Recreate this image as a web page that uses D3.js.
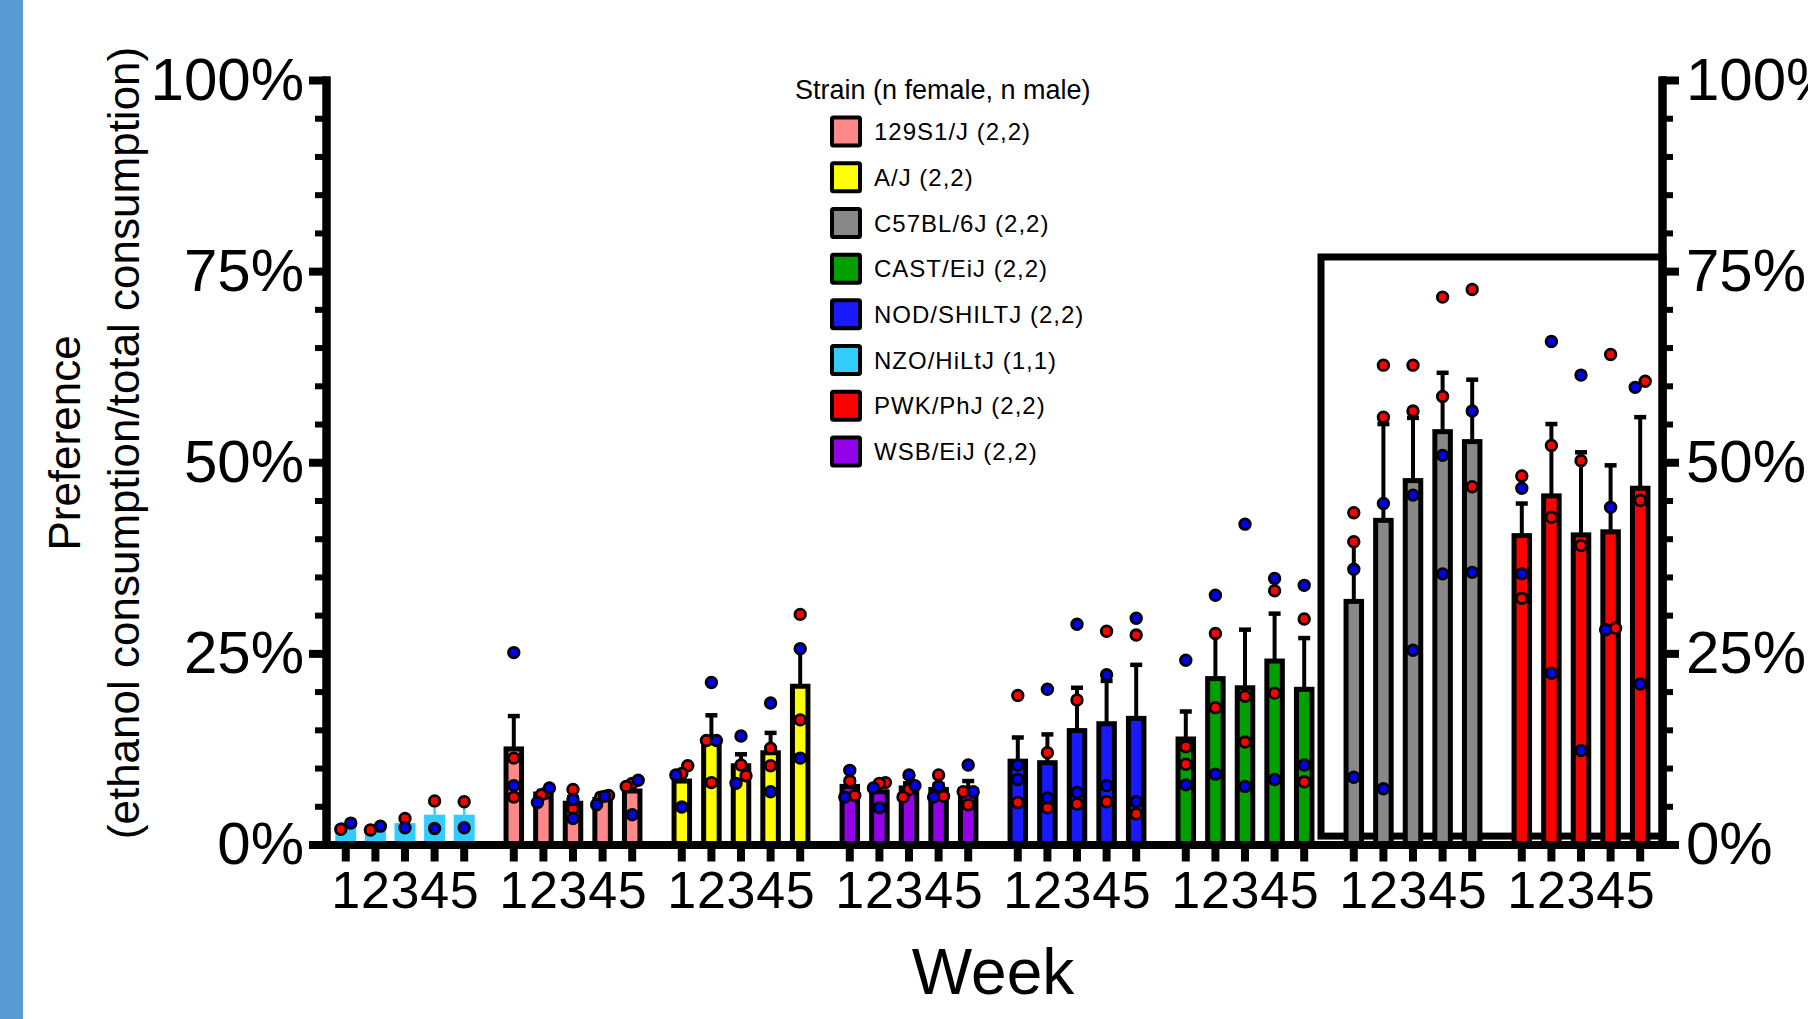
<!DOCTYPE html>
<html>
<head>
<meta charset="utf-8">
<script src="https://cdn.jsdelivr.net/npm/d3@7"></script>
<style>
  body { margin: 0; background: #fff; }
  svg { display: block; font-family: "Liberation Sans", Arial, sans-serif; }
</style>
</head>
<body>
<div id="chart"></div>
<script>
// Strains in plotting order, weeks on the x axis
const strains = ['NZO/HiLtJ', '129S1/J', 'A/J', 'WSB/EiJ', 'NOD/SHILTJ', 'CAST/EiJ', 'C57BL/6J', 'PWK/PhJ'];
const weeks = [1, 2, 3, 4, 5];
const strainColors = ['#33ccff', '#ff8888', '#ffff00', '#9400e8', '#1a1aff', '#00a000', '#888888', '#ff0000'];

// Legend (alphabetical, as in the figure)
const legendStrains = ['129S1/J', 'A/J', 'C57BL/6J', 'CAST/EiJ', 'NOD/SHILTJ', 'NZO/HiLtJ', 'PWK/PhJ', 'WSB/EiJ'];
const legendN = ['(2,2)', '(2,2)', '(2,2)', '(2,2)', '(2,2)', '(1,1)', '(2,2)', '(2,2)'];

// Mean preference (%) per strain, weeks 1-5
const meanPref = [
  [2.4, 2.1, 2.8, 3.9, 3.9],
  [12.5, 6.6, 5.4, 5.9, 7.0],
  [8.3, 13.3, 10.3, 12.0, 20.7],
  [7.6, 6.9, 7.4, 7.2, 7.2],
  [10.9, 10.7, 14.9, 15.8, 16.5],
  [13.8, 21.7, 20.5, 24.0, 20.3],
  [31.8, 42.4, 47.6, 54.0, 52.7],
  [40.4, 45.6, 40.5, 40.9, 46.6],
];
// SEM (%)
const semPref = [
  [0.4, 0.3, 0.6, 1.8, 1.7],
  [4.3, 0.4, 0.8, 0.3, 1.1],
  [1.2, 3.6, 1.5, 2.6, 4.8],
  [0.9, 0.8, 0.6, 0.7, 1.1],
  [3.1, 3.7, 5.6, 5.6, 7.0],
  [3.6, 5.8, 7.6, 6.2, 6.7],
  [7.8, 12.6, 8.2, 7.7, 8.1],
  [4.2, 9.4, 10.8, 8.7, 9.3],
];
// Individual animals (%): females (red dots)
const femalePref = [
  [[2.0], [1.9], [3.4], [5.7], [5.6]],
  [[11.3, 6.2], [6.7, 6.5], [7.2, 4.7], [6.4, 6.2], [8.0, 7.6]],
  [[10.3, 9.3], [13.6, 8.1], [10.4, 9.0], [12.6, 10.3], [30.1, 16.3]],
  [[8.3, 6.4], [8.1, 8.0], [7.2, 6.2], [9.1, 6.3], [6.9, 5.2]],
  [[19.5, 5.5], [12.0, 4.8], [18.9, 5.3], [27.9, 5.6], [27.4, 4.0]],
  [[12.8, 10.5], [27.6, 17.9], [19.4, 13.4], [33.2, 19.8], [29.5, 8.2]],
  [[43.4, 39.6], [62.7, 55.9], [62.7, 56.7], [71.6, 58.6], [72.6, 46.8]],
  [[48.2, 32.2], [52.2, 42.8], [50.2, 39.1], [64.1, 28.3], [60.6, 45.0]],
];
// males (blue dots)
const malePref = [
  [[2.8], [2.4], [2.2], [2.1], [2.2]],
  [[25.1, 7.7], [7.4, 5.5], [5.9, 3.4], [6.3, 5.2], [8.4, 3.9]],
  [[9.1, 4.9], [21.2, 13.6], [14.2, 8.0], [18.5, 6.9], [25.6, 11.3]],
  [[9.7, 6.2], [7.4, 4.8], [9.1, 7.7], [7.6, 6.2], [10.4, 6.9]],
  [[10.4, 8.5], [20.3, 6.1], [28.8, 6.8], [22.2, 7.7], [29.6, 5.6]],
  [[24.1, 7.8], [32.6, 9.2], [41.9, 7.6], [34.8, 8.5], [33.9, 10.4]],
  [[36.0, 8.8], [44.6, 7.3], [45.7, 25.4], [50.9, 35.4], [56.7, 35.6]],
  [[46.6, 35.4], [65.8, 22.4], [61.4, 12.3], [44.1, 28.1], [59.8, 21.0]],
];

const majorTicks = [0, 25, 50, 75, 100];
const minorTicks = d3.range(0, 101, 5);
// highlighted strains (box), in % units
const boxStrains = ['C57BL/6J', 'PWK/PhJ'];
const boxRange = [1.1, 76.85];

/* Dimensions */
const width = 1808, height = 1019;
const leftX = 326, rightX = 1662;

const svg = d3.select('#chart').append('svg')
  .attr('width', width).attr('height', height);

// slide stripe on the left
svg.append('rect').attr('x', 0).attr('y', 0).attr('width', 23).attr('height', height).attr('fill', '#5b9bd5');

/* Scales */
const y = d3.scaleLinear().domain([0, 100]).range([844.5, 80]);
const xGroup = d3.scaleBand().domain(strains).range([331, 1655]).paddingInner(20 / 168);
const xWeek = d3.scaleBand().domain(weeks).range([0, xGroup.bandwidth()]);
const cx = (s, w) => xGroup(s) + xWeek(w) + xWeek.bandwidth() / 2;

/* Highlight box */
const boxLeft = xGroup(boxStrains[0]) - 18;
const boxRight = xGroup(boxStrains[1]) + xGroup.bandwidth() + 8;
svg.append('rect')
  .attr('x', boxLeft)
  .attr('y', y(boxRange[1]))
  .attr('width', boxRight - boxLeft)
  .attr('height', y(boxRange[0]) - y(boxRange[1]))
  .attr('fill', 'none').attr('stroke', '#000').attr('stroke-width', 7);

/* Build rows */
const rows = [];
strains.forEach((s, si) => {
  weeks.forEach((w, wi) => {
    const dots = [];
    femalePref[si][wi].forEach((v) => dots.push({ v, sex: 'f' }));
    malePref[si][wi].forEach((v) => dots.push({ v, sex: 'm' }));
    rows.push({ s, si, w, mean: meanPref[si][wi], sem: semPref[si][wi], color: strainColors[si], dots });
  });
});

// spread dots that would overlap
rows.forEach((r) => {
  const sorted = r.dots.slice().sort((a, b) => a.v - b.v);
  const clusters = [];
  sorted.forEach((d) => {
    const last = clusters[clusters.length - 1];
    if (last && y(last[last.length - 1].v) - y(d.v) < 9) last.push(d);
    else clusters.push([d]);
  });
  clusters.forEach((c) => {
    const step = c.length > 1 ? Math.min(10, 12 / (c.length - 1)) : 0;
    c.forEach((d, i) => (d.dx = (i - (c.length - 1) / 2) * step));
  });
});

/* Bars */
const outlined = (r) => r.s !== 'NZO/HiLtJ';
svg.append('g').selectAll('rect').data(rows).join('rect')
  .attr('x', (r) => cx(r.s, r.w) - (outlined(r) ? 7.75 : 10.5))
  .attr('width', (r) => (outlined(r) ? 15.5 : 21))
  .attr('y', (r) => y(r.mean))
  .attr('height', (r) => y(0) - y(r.mean))
  .attr('fill', (r) => r.color)
  .attr('stroke', (r) => (outlined(r) ? '#000' : 'none'))
  .attr('stroke-width', 5);

/* Error bars (upper SEM) */
const err = svg.append('g').selectAll('g').data(rows).join('g')
  .attr('stroke', (r) => (outlined(r) ? '#000' : r.color));
err.append('line')
  .attr('x1', (r) => cx(r.s, r.w)).attr('x2', (r) => cx(r.s, r.w))
  .attr('y1', (r) => y(r.mean)).attr('y2', (r) => y(r.mean + r.sem))
  .attr('stroke-width', (r) => (outlined(r) ? 4 : 2.5));
err.append('line')
  .attr('x1', (r) => cx(r.s, r.w) - 6).attr('x2', (r) => cx(r.s, r.w) + 6)
  .attr('y1', (r) => y(r.mean + r.sem)).attr('y2', (r) => y(r.mean + r.sem))
  .attr('stroke-width', (r) => (outlined(r) ? 4.5 : 2.5));

/* X axis line */
svg.append('line')
  .attr('x1', 310).attr('x2', rightX + 4)
  .attr('y1', y(0) + 0.5).attr('y2', y(0) + 0.5)
  .attr('stroke', '#000').attr('stroke-width', 8);

/* Individual dots */
svg.append('g').selectAll('g').data(rows).join('g')
  .selectAll('circle').data((r) => r.dots.map((d) => ({ ...d, x: cx(r.s, r.w) })))
  .join('circle')
  .attr('cx', (d) => d.x + d.dx)
  .attr('cy', (d) => y(d.v))
  .attr('r', 5.3)
  .attr('fill', (d) => (d.sex === 'f' ? '#ff0000' : '#0000f0'))
  .attr('stroke', '#000')
  .attr('stroke-width', 2.8);

/* Axes */
const styleAxis = (g, tickWidth, fontSize) => {
  g.select('.domain').attr('stroke-width', 8).attr('stroke-linecap', 'square');
  g.selectAll('.tick line').attr('stroke-width', tickWidth);
  g.selectAll('.tick text').attr('font-size', fontSize).attr('fill', '#000')
    .attr('font-family', '"Liberation Sans", Arial, sans-serif');
};

[
  { x: leftX, axis: d3.axisLeft },
  { x: rightX, axis: d3.axisRight },
].forEach(({ x, axis }) => {
  svg.append('g').attr('transform', `translate(${x},0)`)
    .call(axis(y).tickValues(minorTicks).tickSize(11).tickSizeOuter(0).tickFormat(''))
    .call((g) => styleAxis(g, 6, 0));
  svg.append('g').attr('transform', `translate(${x},0)`)
    .call(axis(y).tickValues(majorTicks).tickSize(17).tickSizeOuter(0)
      .tickPadding(axis === d3.axisLeft ? 5 : 7).tickFormat((d) => d + '%'))
    .call((g) => styleAxis(g, 8, 60));
});

strains.forEach((s) => {
  svg.append('g').attr('transform', `translate(${xGroup(s)},${y(0)})`)
    .call(d3.axisBottom(xWeek).tickSize(17).tickPadding(10).tickSizeOuter(0))
    .call((g) => {
      g.select('.domain').remove();
      g.selectAll('.tick line').attr('stroke-width', 8);
      g.selectAll('.tick text').attr('font-size', 52).attr('fill', '#000')
        .attr('font-family', '"Liberation Sans", Arial, sans-serif');
    });
});

/* Axis titles */
svg.append('text').attr('x', 993).attr('y', 994)
  .attr('text-anchor', 'middle').attr('font-size', 64).text('Week');

svg.append('text').attr('transform', 'translate(80,443) rotate(-90)')
  .attr('text-anchor', 'middle').attr('font-size', 44).text('Preference');
svg.append('text').attr('transform', 'translate(139,443) rotate(-90)')
  .attr('text-anchor', 'middle').attr('font-size', 44)
  .text('(ethanol consumption/total consumption)');

/* Legend */
const legendY = d3.scalePoint().domain(legendStrains).range([131.5, 451.5]);
const legend = svg.append('g');
legend.append('text').attr('x', 795).attr('y', 99).attr('font-size', 27)
  .text('Strain (n female, n male)');
const item = legend.selectAll('g.item').data(legendStrains).join('g')
  .attr('class', 'item')
  .attr('transform', (d) => `translate(0,${legendY(d)})`);
item.append('rect')
  .attr('x', 832).attr('y', -14).attr('width', 28).attr('height', 28)
  .attr('fill', (d) => strainColors[strains.indexOf(d)])
  .attr('stroke', '#000').attr('stroke-width', 4).attr('rx', 1.5);
item.append('text')
  .attr('x', 874).attr('dy', '0.36em').attr('font-size', 24)
  .attr('letter-spacing', 1)
  .text((d, i) => `${d} ${legendN[i]}`);
</script>
</body>
</html>
